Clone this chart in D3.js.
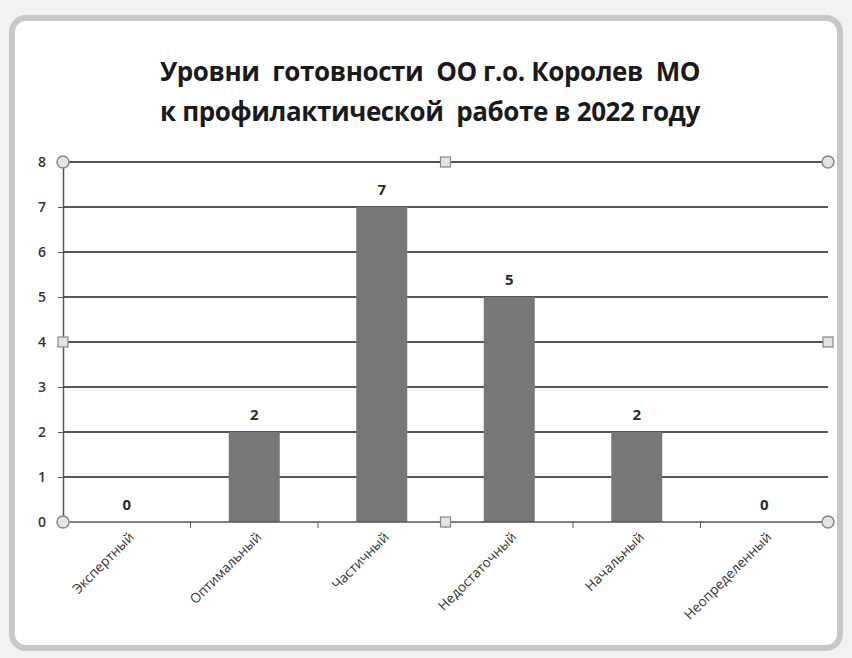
<!DOCTYPE html>
<html>
<head>
<meta charset="utf-8">
<script src="https://cdn.jsdelivr.net/npm/d3@7"></script>
<style>
  body { margin: 0; background: #f3f1f2; }
  svg { display: block; }
  .title { font-family: "Open Sans", sans-serif; font-weight: 700; font-size: 26px; fill: #1a1a1a; letter-spacing: -0.4px; white-space: pre; }
  .tick text { font-family: "Open Sans", sans-serif; font-size: 14px; font-weight: 600; fill: #333; }
  .label { font-family: "Open Sans", sans-serif; font-weight: 700; font-size: 15px; fill: #2a2a2a; }
</style>
</head>
<body>
<script>
// chart values
var categories = ["Экспертный", "Оптимальный", "Частичный", "Недостаточный", "Начальный", "Неопределенный"];
var values = [0, 2, 7, 5, 2, 0];
var y_ticks = [0, 1, 2, 3, 4, 5, 6, 7, 8];
var title_lines = ["Уровни  готовности  ОО г.о. Королев  МО", "к профилактической  работе в 2022 году"];

var W = 852, H = 658;
var plot = { left: 63, right: 828, top: 162, bottom: 522 };

var svg = d3.select("body").append("svg")
    .attr("width", W)
    .attr("height", H);

// chart frame
svg.append("rect")
    .attr("x", 12).attr("y", 18)
    .attr("width", 828).attr("height", 630)
    .attr("rx", 14)
    .attr("fill", "#fff")
    .attr("stroke", "#c9c7c8")
    .attr("stroke-width", 6);

var title = svg.append("g");
title.selectAll("text")
    .data(title_lines)
    .enter().append("text")
    .classed("title", true)
    .attr("x", 430)
    .attr("y", function(d, i){ return 81 + i * 40; })
    .attr("text-anchor", "middle")
    .text(function(d){ return d; });

var x = d3.scaleBand()
    .domain(categories)
    .range([plot.left, plot.right])
    .paddingInner(0.6)
    .paddingOuter(0.3);

var y = d3.scaleLinear()
    .domain([0, 8])
    .range([plot.bottom, plot.top]);

// gridlines
svg.append("g")
    .selectAll("line")
    .data(y_ticks.slice(1))
    .enter().append("line")
    .attr("x1", plot.left).attr("x2", plot.right)
    .attr("y1", function(d){ return y(d); })
    .attr("y2", function(d){ return y(d); })
    .attr("stroke", "#1c1c1c")
    .attr("stroke-width", 1.6);

// y axis
var y_axis = svg.append("g")
    .attr("transform", "translate(" + plot.left + ",0)")
    .call(d3.axisLeft(y).tickValues(y_ticks).tickSize(5).tickPadding(12));
y_axis.select(".domain").attr("stroke", "#555").attr("stroke-width", 1.5);
y_axis.selectAll(".tick line").attr("stroke", "#555");

// bars
svg.append("g")
    .selectAll("rect")
    .data(values)
    .enter().append("rect")
    .attr("x", function(d, i){ return x(categories[i]); })
    .attr("y", function(d){ return y(d); })
    .attr("width", x.bandwidth())
    .attr("height", function(d){ return y(0) - y(d); })
    .attr("fill", "#777");

// x axis, ticks between categories
var x_axis = svg.append("g")
    .attr("transform", "translate(0," + plot.bottom + ")");
x_axis.append("line")
    .attr("x1", plot.left).attr("x2", plot.right)
    .attr("stroke", "#555").attr("stroke-width", 1.5);
x_axis.selectAll("line.sep")
    .data(d3.range(categories.length + 1))
    .enter().append("line")
    .classed("sep", true)
    .attr("x1", function(i){ return plot.left + i * (plot.right - plot.left) / categories.length; })
    .attr("x2", function(i){ return plot.left + i * (plot.right - plot.left) / categories.length; })
    .attr("y1", 0).attr("y2", 6)
    .attr("stroke", "#555");
x_axis.selectAll("text")
    .data(categories)
    .enter().append("text")
    .attr("transform", function(d){
        return "translate(" + (x(d) + x.bandwidth() / 2 + 8) + ",16) rotate(-45)";
    })
    .attr("text-anchor", "end")
    .attr("font-family", "Open Sans, sans-serif")
    .attr("font-size", 13.5)
    .attr("fill", "#333")
    .text(function(d){ return d; });

// data labels
svg.append("g")
    .selectAll("text")
    .data(values)
    .enter().append("text")
    .classed("label", true)
    .attr("x", function(d, i){ return x(categories[i]) + x.bandwidth() / 2; })
    .attr("y", function(d){ return y(d) - 12; })
    .attr("text-anchor", "middle")
    .text(function(d){ return d; });

// selection handles on the plot area
var corners = [[plot.left, plot.top], [plot.right, plot.top], [plot.left, plot.bottom], [plot.right, plot.bottom]];
svg.append("g")
    .selectAll("circle")
    .data(corners)
    .enter().append("circle")
    .attr("cx", function(d){ return d[0]; })
    .attr("cy", function(d){ return d[1]; })
    .attr("r", 6)
    .attr("fill", "#e4e4e4")
    .attr("stroke", "#888")
    .attr("stroke-width", 1.5);
var mids = [[(plot.left + plot.right) / 2, plot.top], [(plot.left + plot.right) / 2, plot.bottom],
            [plot.left, (plot.top + plot.bottom) / 2], [plot.right, (plot.top + plot.bottom) / 2]];
svg.append("g")
    .selectAll("rect")
    .data(mids)
    .enter().append("rect")
    .attr("x", function(d){ return d[0] - 5; })
    .attr("y", function(d){ return d[1] - 5; })
    .attr("width", 10).attr("height", 10)
    .attr("fill", "#e4e4e4")
    .attr("stroke", "#888")
    .attr("stroke-width", 1.2);
</script>
</body>
</html>
